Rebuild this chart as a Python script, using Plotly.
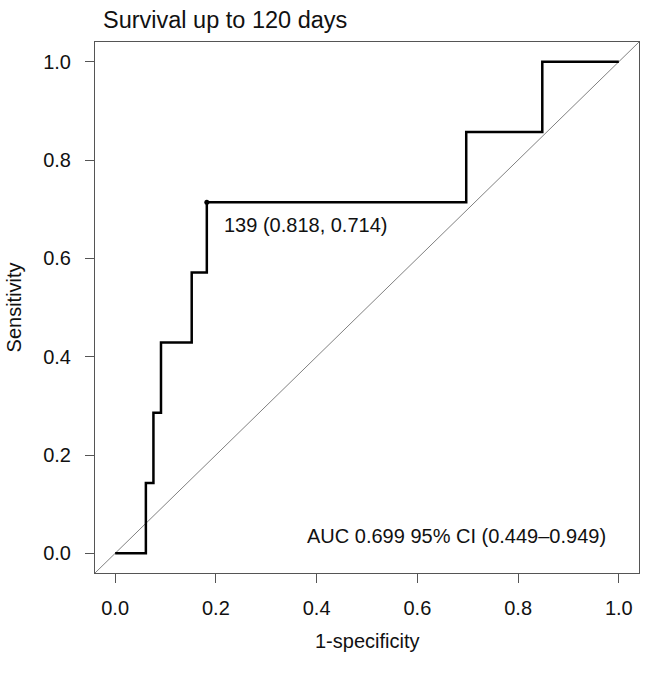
import plotly.graph_objects as go

# ROC step coordinates (1-specificity, sensitivity)
fpr = [0.0, 0.061, 0.076, 0.091, 0.152, 0.182, 0.697, 0.848, 1.0]
tpr = [0.0, 0.143, 0.286, 0.429, 0.571, 0.714, 0.857, 1.0, 1.0]

best_fpr = 0.182
best_tpr = 0.714
best_label = "139 (0.818, 0.714)"
auc_label = "AUC 0.699 95% CI (0.449\u20130.949)"

tick_vals = [0.0, 0.2, 0.4, 0.6, 0.8, 1.0]
tick_text = ["0.0", "0.2", "0.4", "0.6", "0.8", "1.0"]
diag = [-0.04, 1.04]

FONT = "Liberation Sans, Arial, Helvetica, sans-serif"
AX = "#555555"

fig = go.Figure()
fig.add_trace(go.Scatter(x=diag, y=diag, mode="lines",
                         line=dict(color="#808080", width=1), hoverinfo="skip"))
fig.add_trace(go.Scatter(x=fpr, y=tpr, mode="lines", line_shape="hv",
                         line=dict(color="black", width=2.5)))
fig.add_trace(go.Scatter(x=[best_fpr], y=[best_tpr], mode="markers",
                         marker=dict(color="black", size=5)))

axis_common = dict(
    range=[-0.04, 1.04], tickvals=tick_vals, ticktext=tick_text,
    showgrid=False, zeroline=False, showline=True, mirror=True,
    linecolor=AX, linewidth=1, ticks="outside", ticklen=9, tickcolor=AX,
    tickwidth=1, tickfont=dict(family=FONT, size=20, color="#111111"),
)

fig.update_layout(
    width=646, height=673,
    margin=dict(l=95, r=7, t=42, b=100),
    paper_bgcolor="white", plot_bgcolor="white",
    showlegend=False,
    font=dict(family=FONT, color="#111111"),
    xaxis=dict(**axis_common, ticklabelstandoff=8),
    yaxis=dict(**axis_common, ticklabelstandoff=10),
    annotations=[
        dict(text=best_label, x=0.212, y=0.667, xref="x", yref="y",
             xanchor="left", yanchor="middle", showarrow=False,
             font=dict(size=20, family=FONT, color="#111111")),
        dict(text=auc_label, x=0.377, y=0.036, xref="x", yref="y",
             xanchor="left", yanchor="middle", showarrow=False,
             font=dict(size=20, family=FONT, color="#111111")),
        dict(text="Survival up to 120 days", x=0.011, y=1.0414,
             xref="paper", yref="paper", xanchor="left", yanchor="middle",
             showarrow=False, font=dict(size=23.5, family=FONT, color="#111111")),
        dict(text="1-specificity", x=0.5, y=-0.128, xref="paper", yref="paper",
             xanchor="center", yanchor="middle", showarrow=False,
             font=dict(size=20, family=FONT, color="#111111")),
        dict(text="Sensitivity", x=-0.149, y=0.5, xref="paper", yref="paper",
             xanchor="center", yanchor="middle", textangle=-90, showarrow=False,
             font=dict(size=20, family=FONT, color="#111111")),
    ],
)

fig.write_html("out.html",
               config={"displayModeBar": False},
               post_script="document.body.style.margin='0';document.body.style.overflow='hidden';")
